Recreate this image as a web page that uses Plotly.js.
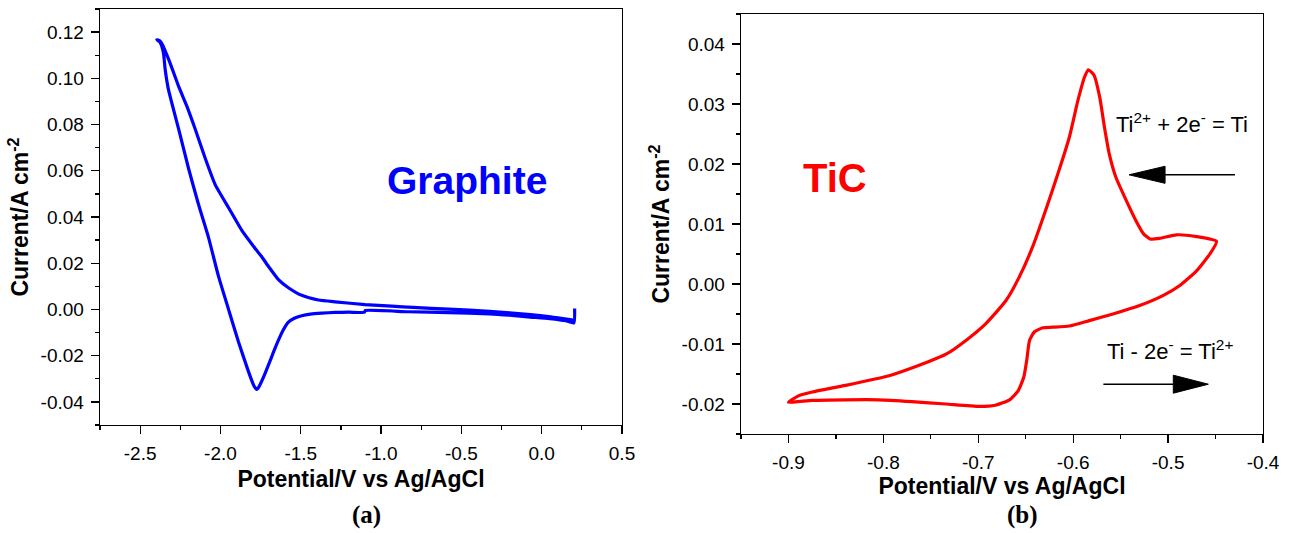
<!DOCTYPE html>
<html><head><meta charset="utf-8">
<script src="https://cdn.plot.ly/plotly-3.0.1.min.js"></script>
<style>html,body{margin:0;padding:0;background:#fff}#chart{width:1289px;height:533px}</style>
</head><body><div id="chart"></div>
<script>
// ---- Panel (a): Graphite cyclic voltammogram (potential V, current A cm^-2) ----
const graphiteV = [0.205, 0.200, 0.150, 0.050, -0.071, -0.200, -0.325, -0.579, -0.832, -1.099, -1.104, -1.200, -1.286, -1.369, -1.440, -1.494, -1.540, -1.577, -1.610, -1.639, -1.670, -1.701, -1.730, -1.753, -1.765, -1.774, -1.785, -1.795, -1.826, -1.888, -1.950, -2.012, -2.075, -2.137, -2.199, -2.261, -2.324, -2.344, -2.355, -2.375, -2.396,
  -2.380, -2.365, -2.313, -2.261, -2.210, -2.158, -2.095, -2.033, -1.950, -1.867, -1.784, -1.743, -1.701, -1.639, -1.577, -1.494, -1.390, -1.286, -1.100, -0.934, -0.800, -0.579, -0.325, -0.071, 0.056, 0.195];
const graphiteI = [0.0004, -0.0058, -0.0049, -0.0040, -0.0033, -0.0025, -0.0019, -0.0014, -0.0010, -0.0005, -0.0012, -0.0012, -0.0013, -0.0016, -0.0020, -0.0027, -0.0038, -0.0055, -0.0090, -0.0133, -0.0185, -0.0240, -0.0290, -0.0325, -0.0340, -0.0346, -0.0338, -0.0325, -0.0268, -0.0140, 0.0001, 0.0143, 0.0313, 0.0455, 0.0611, 0.0782, 0.0952, 0.1037, 0.1110, 0.1155, 0.1167,
  0.1163, 0.1150, 0.1065, 0.0966, 0.0881, 0.0782, 0.0654, 0.0540, 0.0441, 0.0342, 0.0264, 0.0228, 0.0186, 0.0129, 0.0094, 0.0061, 0.0041, 0.0033, 0.0021, 0.0014, 0.0009, 0.0001, -0.0008, -0.0022, -0.0032, -0.0046];

// ---- Panel (b): TiC cyclic voltammogram ----
const ticV = [-0.900, -0.889, -0.875, -0.840, -0.794, -0.763, -0.734, -0.713, -0.692, -0.671, -0.657, -0.643, -0.629, -0.615, -0.604, -0.595, -0.588, -0.584, -0.578, -0.572, -0.567, -0.562, -0.555, -0.544, -0.534, -0.526, -0.519, -0.509, -0.491, -0.470, -0.449,
  -0.456, -0.470, -0.488, -0.505, -0.530, -0.558, -0.583, -0.604, -0.622, -0.632, -0.641, -0.646, -0.649, -0.652, -0.658, -0.667, -0.682, -0.699, -0.734, -0.770, -0.805, -0.840, -0.875, -0.900];
const ticI = [-0.0197, -0.0186, -0.0180, -0.0169, -0.0153, -0.0136, -0.0117, -0.0094, -0.0066, -0.0028, 0.0011, 0.0061, 0.0123, 0.0189, 0.0245, 0.0306, 0.0345, 0.0357, 0.0348, 0.0311, 0.0261, 0.0217, 0.0178, 0.0139, 0.0106, 0.0084, 0.0075, 0.0076, 0.0082, 0.0079, 0.0071,
  0.0050, 0.0022, -0.0003, -0.0019, -0.0036, -0.0050, -0.0061, -0.0070, -0.0072, -0.0073, -0.0080, -0.0094, -0.0128, -0.0155, -0.0178, -0.0193, -0.0202, -0.0204, -0.0200, -0.0196, -0.0193, -0.0193, -0.0194, -0.0197];

// ---- Tick labels ----
const xTicksA = [-2.5, -2.0, -1.5, -1.0, -0.5, 0.0, 0.5];
const xTickTextA = ['-2.5', '-2.0', '-1.5', '-1.0', '-0.5', '0.0', '0.5'];
const yTicksA = [-0.04, -0.02, 0, 0.02, 0.04, 0.06, 0.08, 0.10, 0.12];
const yTickTextA = ['-0.04', '-0.02', '0.00', '0.02', '0.04', '0.06', '0.08', '0.10', '0.12'];
const xTicksB = [-0.9, -0.8, -0.7, -0.6, -0.5, -0.4];
const xTickTextB = ['-0.9', '-0.8', '-0.7', '-0.6', '-0.5', '-0.4'];
const yTicksB = [-0.02, -0.01, 0, 0.01, 0.02, 0.03, 0.04];
const yTickTextB = ['-0.02', '-0.01', '0.00', '0.01', '0.02', '0.03', '0.04'];

// ---- Text labels ----
const xTitle = '<b>Potential/V vs Ag/AgCl</b>';
const yTitle = '<b>Current/A cm<sup>-2</sup></b>';
const labelA = 'Graphite';
const labelB = 'TiC';
const reductionText = 'Ti<sup>2+</sup> + 2e<sup>-</sup> = Ti';
const oxidationText = 'Ti - 2e<sup>-</sup> = Ti<sup>2+</sup>';

const SANS = 'Liberation Sans, Arial, sans-serif';
const SERIF = 'Liberation Serif, Times New Roman, serif';

function axisStyle(extra) {
  return Object.assign({
    showgrid: false, zeroline: false,
    showline: true, linecolor: '#000', linewidth: 1.3, mirror: true,
    ticks: 'outside', ticklen: 8, tickwidth: 1.3, tickcolor: '#000',
    tickfont: {family: SANS, size: 19, color: '#000'},
    ticklabelstandoff: 3,
    tickmode: 'array'
  }, extra);
}

const traces = [
  {x: graphiteV, y: graphiteI, xaxis: 'x', yaxis: 'y', type: 'scatter', mode: 'lines',
   line: {color: '#0000ff', width: 3.2, shape: 'spline', smoothing: 0.5}, hoverinfo: 'x+y'},
  {x: ticV, y: ticI, xaxis: 'x2', yaxis: 'y2', type: 'scatter', mode: 'lines',
   line: {color: '#ff0000', width: 3.2, shape: 'spline', smoothing: 0.5}, hoverinfo: 'x+y'}
];

// arrow geometry (data units of panel b)
const arrowL = {y: 0.0182, tail: -0.4295, base: -0.5032, tip: -0.5412, half: 0.00142};
const arrowR = {y: -0.0167, tail: -0.5682, base: -0.4945, tip: -0.4576, half: 0.0015};
function arrowShapes(a) {
  return [
    {type: 'line', xref: 'x2', yref: 'y2', x0: a.tail, x1: a.base, y0: a.y, y1: a.y, line: {color: '#000', width: 1.6}},
    {type: 'path', xref: 'x2', yref: 'y2', fillcolor: '#000', line: {color: '#000', width: 1},
     path: 'M' + a.tip + ',' + a.y + ' L' + a.base + ',' + (a.y + a.half) + ' L' + a.base + ',' + (a.y - a.half) + ' Z'}
  ];
}

const layout = {
  width: 1289, height: 533,
  margin: {l: 0, r: 0, t: 0, b: 0},
  paper_bgcolor: '#fff', plot_bgcolor: '#fff',
  showlegend: false,
  xaxis: axisStyle({domain: [100 / 1289, 622 / 1289], range: [-2.75, 0.5], tickvals: xTicksA, ticktext: xTickTextA,
    minor: {tickmode: 'linear', tick0: -2.75, dtick: 0.25, ticklen: 4, tickwidth: 1.3, tickcolor: '#000', ticks: 'outside'},
    title: {text: xTitle, font: {family: SANS, size: 23, color: '#000'}, standoff: 7}, anchor: 'y'}),
  yaxis: axisStyle({domain: [(533 - 425) / 533, (533 - 9) / 533], range: [-0.05, 0.13], tickvals: yTicksA, ticktext: yTickTextA,
    minor: {tickmode: 'linear', tick0: -0.05, dtick: 0.01, ticklen: 4, tickwidth: 1.3, tickcolor: '#000', ticks: 'outside'},
    title: {text: yTitle, font: {family: SANS, size: 23, color: '#000'}, standoff: 5}, anchor: 'x'}),
  xaxis2: axisStyle({domain: [741 / 1289, 1263 / 1289], range: [-0.95, -0.4], tickvals: xTicksB, ticktext: xTickTextB,
    minor: {tickmode: 'linear', tick0: -0.95, dtick: 0.05, ticklen: 4, tickwidth: 1.3, tickcolor: '#000', ticks: 'outside'},
    title: {text: xTitle, font: {family: SANS, size: 23, color: '#000'}, standoff: 5}, anchor: 'y2'}),
  yaxis2: axisStyle({domain: [(533 - 434) / 533, (533 - 14) / 533], range: [-0.025, 0.045], tickvals: yTicksB, ticktext: yTickTextB,
    minor: {tickmode: 'linear', tick0: -0.025, dtick: 0.005, ticklen: 4, tickwidth: 1.3, tickcolor: '#000', ticks: 'outside'},
    title: {text: yTitle, font: {family: SANS, size: 23, color: '#000'}, standoff: 5}, anchor: 'x2'}),
  annotations: [
    {xref: 'x', yref: 'y', x: -0.467, y: 0.0556, text: '<b>' + labelA + '</b>', showarrow: false,
     font: {family: SANS, size: 39, color: '#0000ff'}, xanchor: 'center', yanchor: 'middle'},
    {xref: 'x2', yref: 'y2', x: -0.851, y: 0.0177, text: '<b>' + labelB + '</b>', showarrow: false,
     font: {family: SANS, size: 40, color: '#ff0000'}, xanchor: 'center', yanchor: 'middle'},
    {xref: 'x2', yref: 'y2', x: -0.557, y: 0.0268, text: reductionText, showarrow: false,
     font: {family: SANS, size: 22, color: '#000'}, xanchor: 'left', yanchor: 'middle'},
    {xref: 'x2', yref: 'y2', x: -0.5664, y: -0.011, text: oxidationText, showarrow: false,
     font: {family: SANS, size: 22, color: '#000'}, xanchor: 'left', yanchor: 'middle'},
    {xref: 'paper', yref: 'paper', x: 366 / 1289, y: 0, text: '<b>(a)</b>', showarrow: false,
     font: {family: SERIF, size: 25, color: '#000'}, xanchor: 'center', yanchor: 'bottom', yshift: 2},
    {xref: 'paper', yref: 'paper', x: 1022 / 1289, y: 0, text: '<b>(b)</b>', showarrow: false,
     font: {family: SERIF, size: 25, color: '#000'}, xanchor: 'center', yanchor: 'bottom', yshift: 2}
  ],
  shapes: arrowShapes(arrowL).concat(arrowShapes(arrowR))
};

Plotly.newPlot('chart', traces, layout, {displayModeBar: false, staticPlot: true});
</script>
</body></html>
